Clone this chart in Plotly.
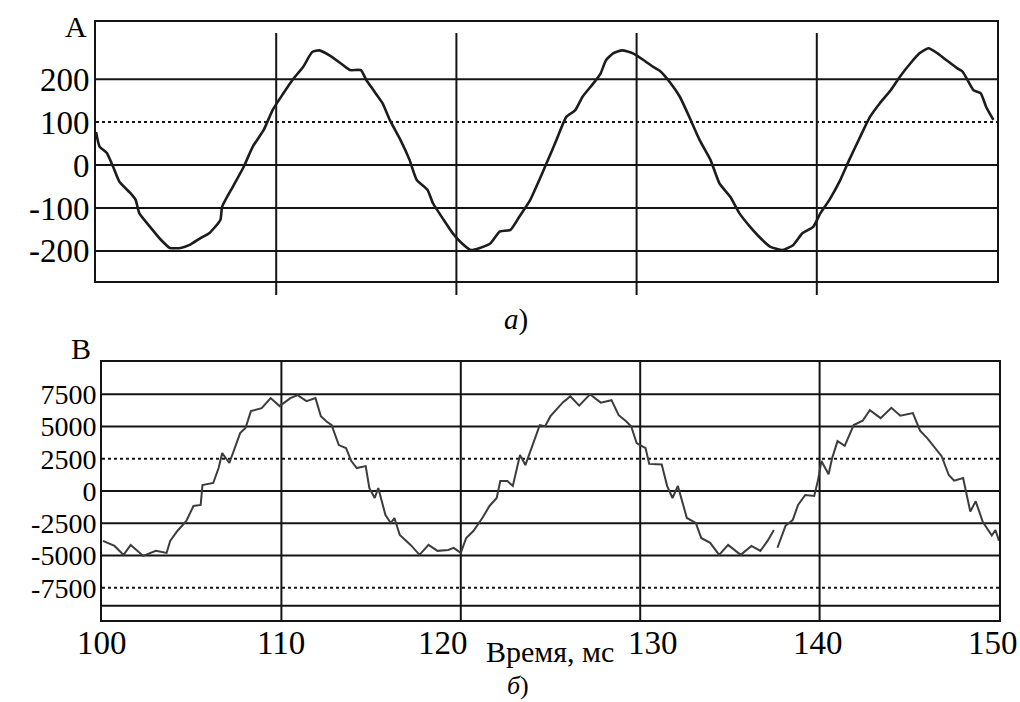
import plotly.graph_objects as go

W, H = 1020, 702


def py(px):
    return 1 - px / H


def pxx(px):
    return px / W


# ---- data: top panel (current, A) ----
top_t = [100.0, 100.2, 100.6, 100.95, 101.3, 101.9, 102.2, 102.4, 103.0, 103.6,
         104.1, 104.7, 105.2, 105.8, 106.3, 106.9, 107.0, 107.6, 108.2, 108.7,
         109.3, 109.8, 110.4, 110.9, 111.5, 112.0, 112.4, 113.0, 113.7, 114.1,
         114.7, 115.0, 115.4, 115.9, 116.3, 116.9, 117.4, 117.8, 118.4, 118.7,
         119.3, 119.8, 120.3, 120.8, 121.3, 121.9, 122.4, 123.0, 123.5, 124.1,
         124.6, 125.0, 125.4, 125.7, 126.1, 126.6, 127.0, 127.6, 128.0, 128.3,
         128.7, 129.2, 129.8, 130.4, 130.9, 131.3, 131.9, 132.4, 133.0, 133.5,
         134.1, 134.6, 135.2, 135.7, 136.3, 136.8, 137.4, 138.1, 138.7, 139.2,
         139.8, 140.2, 140.7, 141.3, 141.8, 142.4, 142.95, 143.5, 144.1, 144.6,
         145.2, 145.7, 146.2, 146.7, 147.2, 147.8, 148.1, 148.7, 149.1, 149.4, 149.8]
top_a = [77, 43, 28, -4, -39, -65, -81, -112, -144, -174,
         -193, -193, -186, -170, -158, -128, -97, -50, -4, 43,
         81, 128, 167, 198, 229, 263, 267, 254, 233, 221,
         221, 198, 174, 144, 105, 58, 12, -35, -58, -89,
         -128, -159, -182, -198, -193, -182, -155, -151, -120, -81,
         -35, 4, 43, 74, 112, 128, 159, 190, 213, 244,
         260, 267, 260, 244, 229, 219, 190, 159, 105, 58,
         12, -43, -74, -112, -144, -167, -190, -198, -186, -159,
         -144, -112, -81, -35, 12, 65, 112, 144, 174, 205,
         237, 260, 272, 260, 244, 225, 217, 174, 167, 135, 105]

# ---- data: bottom panel (voltage, B) ----
bot_t = [100.05, 100.7, 101.2, 101.6, 102.3, 103.0, 103.6, 103.8, 104.2, 104.7,
         105.1, 105.5, 105.6, 106.2, 106.5, 106.7, 107.1, 107.4, 107.7, 108.0,
         108.3, 108.9, 109.4, 109.9, 110.5, 110.9, 111.4, 111.9, 112.2, 112.5,
         112.8, 113.2, 113.6, 113.9, 114.2, 114.7, 114.9, 115.2, 115.4, 115.8,
         116.1, 116.3, 116.6, 117.2, 117.7, 118.2, 118.7, 119.3, 119.6, 120.0,
         120.3, 120.7, 121.2, 121.6, 122.0, 122.2, 122.6, 122.9, 123.3, 123.6,
         124.0, 124.4, 124.7, 125.0, 125.3, 125.7, 125.9, 126.1, 126.6, 127.2,
         127.8, 128.4, 128.8, 129.2, 129.5, 129.8, 130.3, 130.5, 131.2, 131.5,
         131.8, 132.1, 132.6, 133.1, 133.4, 133.9, 134.4, 134.9, 135.6, 136.2,
         136.7, 137.1, 137.45, 137.55, 137.65, 138.1, 138.5, 138.8, 139.2, 139.7,
         139.9, 140.1, 140.5, 140.7, 141.0, 141.4, 141.9, 142.4, 142.8, 143.4,
         144.0, 144.5, 145.2, 145.6, 146.0, 146.8, 147.2, 147.5, 148.0, 148.4,
         148.7, 149.1, 149.6, 149.8, 150.0]
bot_v = [-3870, -4260, -4950, -4180, -5030, -4640, -4800, -3870, -3100, -2320,
         -1160, -1080, 460, 620, 1780, 2940, 2170, 3330, 4490, 4880,
         6190, 6420, 7200, 6580, 7200, 7430, 6970, 7200, 5800, 5400,
         5110, 3560, 3330, 2320, 1780, 1930, 230, -540, 230, -1860,
         -2480, -2090, -3410, -4180, -4950, -4180, -4640, -4570, -4410, -4800,
         -3640, -3100, -2090, -1160, -540, 770, 770, 390, 2790, 2010,
         3560, 5110, 5030, 5800, 6270, 6890, 7100, 7350, 6620, 7500,
         6850, 7040, 5880, 5420, 5000, 3720, 3330, 2100, 2050, 400,
         -540, 390, -2090, -2480, -3640, -4020, -4950, -4180, -4950, -4260,
         -4640, -3870, -3020, None, -4400, -2700, -2250, -1080, -310, -390,
         770, 2320, 1300, 2550, 3870, 3500, 5110, 5450, 6270, 5650,
         6450, 5840, 6040, 4680, 4100, 2700, 1240, 800, 1000, -1600,
         -800, -2400, -3450, -3020, -3850]

# ---- ticks / grid ----
top_ticks = [200, 100, 0, -100, -200]
top_tick_text = ["200", "100", "0", "-100", "-200"]
top_dotted = [100]
bot_ticks = [7500, 5000, 2500, 0, -2500, -5000, -7500]
bot_tick_text = ["7500", "5000", "2500", "0", "-2500", "-5000", "-7500"]
bot_dotted = [2500, -7500]
bot_extra = [-8900]
x_ticks = [100, 110, 120, 130, 140, 150]
x_tick_text = ["100", "110", "120", "130", "140", "150"]
x_grid = [110, 120, 130, 140]

# label nudges (px) so x labels make room for the axis title, as in the original
x_label_shift = {100: 0, 110: 0, 120: -18, 130: 13, 140: -2, 150: -6}

SERIF = "Liberation Serif"
INK = "#141414"

fig = go.Figure()
fig.add_trace(go.Scatter(x=top_t, y=top_a, mode="lines",
                         line=dict(color="#1c1c1c", width=2.6, shape="spline", smoothing=0.5),
                         xaxis="x", yaxis="y", showlegend=False, hoverinfo="skip"))
fig.add_trace(go.Scatter(x=bot_t, y=bot_v, mode="lines", connectgaps=False,
                         line=dict(color="#3c3c3c", width=2),
                         xaxis="x2", yaxis="y2", showlegend=False, hoverinfo="skip"))

shapes = []
for v in top_ticks:
    shapes.append(dict(type="line", xref="x domain", yref="y", x0=0, x1=1, y0=v, y1=v,
                       layer="below",
                       line=dict(color=INK, width=2,
                                 dash="dot" if v in top_dotted else "solid")))
for v in bot_ticks + bot_extra:
    shapes.append(dict(type="line", xref="x2 domain", yref="y2", x0=0, x1=1, y0=v, y1=v,
                       layer="below",
                       line=dict(color=INK, width=2,
                                 dash="dot" if v in bot_dotted else "solid")))
for t in x_grid:
    shapes.append(dict(type="line", xref="x", yref="paper", x0=t, x1=t,
                       y0=py(295), y1=py(33), layer="below",
                       line=dict(color=INK, width=2)))
    shapes.append(dict(type="line", xref="x2", yref="y2 domain", x0=t, x1=t,
                       y0=0, y1=1, layer="below",
                       line=dict(color=INK, width=2)))

axis_common = dict(showgrid=False, zeroline=False, showline=True, mirror=True,
                   linecolor=INK, linewidth=2, fixedrange=True, automargin=False,
                   ticklabeloverflow="allow")


def label(text, x, y, size):
    return dict(text=text, x=pxx(x), y=py(y), xref="paper", yref="paper",
                xanchor="center", yanchor="middle", showarrow=False,
                font=dict(family=SERIF, size=size, color="black"))


annotations = [
    label("A", 76, 27, 30),
    label("B", 81, 348, 30),
    label("<i>а</i>)", 516, 319, 29),
    label("<i>б</i>)", 518, 685, 26),
    label("Время, мс", 550, 651, 30),
]
for t, txt in zip(x_ticks, x_tick_text):
    annotations.append(dict(text=txt, x=t, xref="x2", y=py(643), yref="paper",
                            xanchor="center", yanchor="middle", showarrow=False,
                            xshift=x_label_shift[t],
                            font=dict(family=SERIF, size=33, color="black")))

fig.update_layout(
    width=W, height=H,
    margin=dict(l=0, r=0, t=0, b=0, autoexpand=False),
    paper_bgcolor="white", plot_bgcolor="white",
    shapes=shapes,
    xaxis=dict(domain=[pxx(96), pxx(997)], range=[100, 150], anchor="y",
               showticklabels=False, ticks="", **axis_common),
    yaxis=dict(domain=[py(281), py(22)], range=[-270, 333], anchor="x",
               tickvals=top_ticks, ticktext=top_tick_text,
               tickfont=dict(family=SERIF, size=33, color="black"),
               ticks="", ticklabelstandoff=-2,
               **axis_common),
    xaxis2=dict(domain=[pxx(102), pxx(999)], range=[100, 150], anchor="y2",
                tickvals=x_ticks, showticklabels=False, ticks="",
                **axis_common),
    yaxis2=dict(domain=[py(620), py(362)], range=[-10000, 10000], anchor="x2",
                tickvals=bot_ticks, ticktext=bot_tick_text,
                tickfont=dict(family=SERIF, size=28, color="black"),
                ticks="", ticklabelstandoff=-2,
                **axis_common),
    annotations=annotations,
)

fig.write_html("out.html")
